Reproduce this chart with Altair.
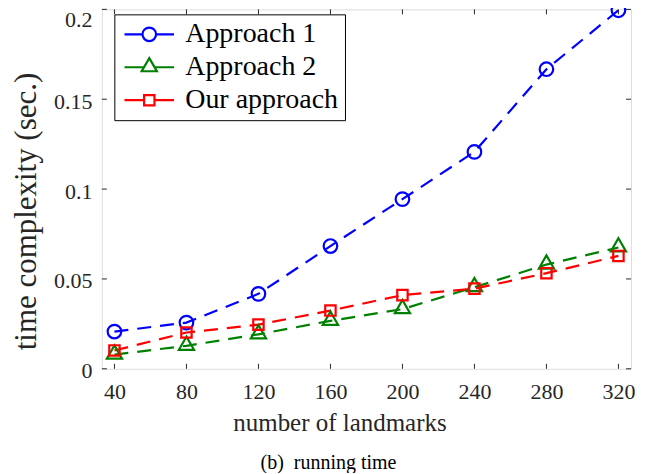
import altair as alt
import pandas as pd

# ---- data ----
landmarks = [40, 80, 120, 160, 200, 240, 280, 320]
approach1 = [0.0207, 0.0257, 0.0417, 0.0683, 0.0944, 0.1207, 0.1667, 0.1995]
approach2 = [0.0079, 0.0128, 0.0192, 0.0267, 0.0332, 0.0454, 0.0580, 0.0675]
our_approach = [0.0102, 0.0202, 0.0246, 0.0324, 0.0410, 0.0446, 0.0532, 0.0628]

series_names = ["Approach 1", "Approach 2", "Our approach"]
series_colors = ["#0000FF", "#008000", "#FF0000"]

x_ticks = [40, 80, 120, 160, 200, 240, 280, 320]
y_ticks = [0, 0.05, 0.1, 0.15, 0.2]

# ---- marker shapes (unit coordinates, scaled by sqrt(size)/2) ----
circle = "M0.85,0A0.85,0.85,0,1,1,-0.85,0A0.85,0.85,0,1,1,0.85,0Z"
triangle = "M0,-1.15L0.95,0.5L-0.95,0.5Z"
square = "M-0.65,-0.65H0.65V0.65H-0.65Z"
marker_shapes = [circle, triangle, square]
legend_shapes = [
    "M-3.1,0H-0.85M0.85,0H3.1" + circle,
    "M-3.1,0H-0.66M0.66,0H3.1" + triangle,
    "M-3.1,0H-0.65M0.65,0H3.1" + square,
]

rows = []
for name, vals in zip(series_names, [approach1, approach2, our_approach]):
    for xv, yv in zip(landmarks, vals):
        rows.append({"landmarks": xv, "time": yv, "series": name})
df = pd.DataFrame(rows)
xt = pd.DataFrame({"v": x_ticks})
yt = pd.DataFrame({"v": y_ticks})

W, H = 530, 360
FONT = "Liberation Serif"
AX = "#262626"

x_enc = alt.X(
    "landmarks:Q",
    scale=alt.Scale(domain=[33, 327], nice=False, zero=False),
    axis=alt.Axis(
        values=x_ticks, format="d", title="number of landmarks",
        grid=False, ticks=False, tickSize=0, domain=False,
        labelFont=FONT, labelFontSize=22, labelColor=AX, labelPadding=13,
        titleFont=FONT, titleFontSize=25, titleFontWeight="normal", titleColor=AX,
        titleX=238, titleY=62, titleBaseline="alphabetic", titleAlign="center",
    ),
)
y_enc = alt.Y(
    "time:Q",
    scale=alt.Scale(domain=[0, 0.2], nice=False),
    axis=alt.Axis(
        values=y_ticks, format="~g", title="time complexity (sec.)",
        grid=False, ticks=False, tickSize=0, domain=False,
        labelFont=FONT, labelFontSize=22, labelColor=AX, labelPadding=10,
        labelOffset=alt.condition("datum.value >= 0.2", alt.value(10.5), alt.value(2)),
        titleFont=FONT, titleFontSize=31, titleFontWeight="normal", titleColor=AX,
        titleX=-66, titleY=202, titleBaseline="alphabetic", titleAlign="center",
    ),
)

def color_enc(legend):
    return alt.Color("series:N", scale=alt.Scale(domain=series_names, range=series_colors), legend=legend)

legend_props = dict(
    title=None, orient="none", legendX=12.5, legendY=5,
    fillColor="white", strokeColor="#000000", cornerRadius=0,
    padding=6, labelFont=FONT, labelFontSize=28, labelColor="#000000",
    symbolSize=256, symbolStrokeWidth=2.2, symbolOpacity=1,
    symbolOffset=15, labelOffset=22, rowPadding=5, labelLimit=400,
)

lines = alt.Chart(df).mark_line(strokeDash=[14, 9], strokeWidth=2.2).encode(
    x=x_enc, y=y_enc, color=color_enc(None), detail="series:N"
)
points = alt.Chart(df).mark_point(filled=False, size=256, strokeWidth=2.2, opacity=1).encode(
    x="landmarks:Q", y="time:Q", color=color_enc(None),
    shape=alt.Shape("series:N", scale=alt.Scale(domain=series_names, range=marker_shapes), legend=None),
)
legend_layer = alt.Chart(df).mark_point(filled=False, size=256, strokeWidth=2.2, opacity=0).encode(
    x="landmarks:Q", y="time:Q",
    color=color_enc(alt.Legend(**legend_props)),
    shape=alt.Shape("series:N", scale=alt.Scale(domain=series_names, range=legend_shapes),
                    legend=alt.Legend(**legend_props)),
)

tick_len = 5
xt_bottom = alt.Chart(xt).mark_rule(color=AX, strokeWidth=1).encode(
    x="v:Q", y=alt.value(H), y2=alt.value(H - tick_len))
xt_top = alt.Chart(xt).mark_rule(color=AX, strokeWidth=1).encode(
    x="v:Q", y=alt.value(0), y2=alt.value(tick_len))
yt_left = alt.Chart(yt).mark_rule(color=AX, strokeWidth=1).encode(
    y="v:Q", x=alt.value(0), x2=alt.value(tick_len))
yt_right = alt.Chart(yt).mark_rule(color=AX, strokeWidth=1).encode(
    y="v:Q", x=alt.value(W), x2=alt.value(W - tick_len))

chart = (
    alt.layer(xt_bottom, xt_top, yt_left, yt_right, lines, points, legend_layer)
    .resolve_scale(color="independent", shape="independent")
    .properties(
        width=W, height=H,
        autosize=alt.AutoSizeParams(type="none"),
        padding={"left": 94, "top": 1, "right": 17, "bottom": 104},
        title=alt.TitleParams(
            text="(b)\u2002running time", orient="bottom", anchor="middle",
            font=FONT, fontSize=20, fontWeight="normal", color="#000000",
            offset=17, dx=-38,
        ),
    )
    .configure_view(stroke=AX, strokeWidth=1)
    .configure_legend(strokeColor="#000000", strokeWidth=1)
    .configure(background="white")
)

chart.save("out.html", embed_options={"renderer": "svg", "actions": False})
